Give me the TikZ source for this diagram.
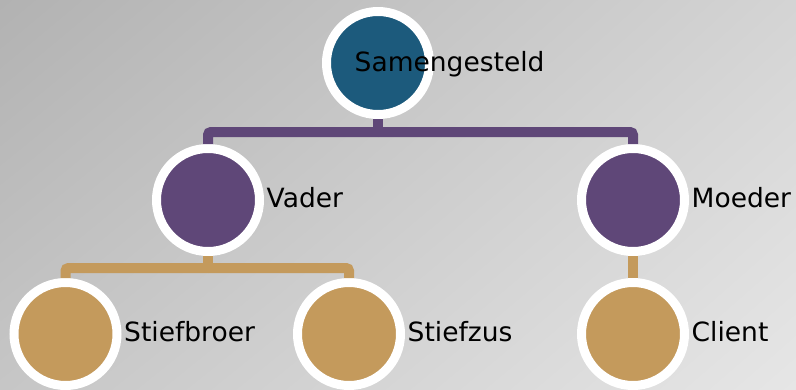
\documentclass[tikz,border=0pt]{standalone}
\usepackage{fontspec}
\setmainfont{DejaVu Sans}
\usepackage{xcolor}
\usetikzlibrary{positioning,shadings}
\definecolor{topblue}{HTML}{1C5A7C}
\definecolor{famplum}{HTML}{5F4778}
\definecolor{famtan}{HTML}{C49A5C}
\definecolor{bgul}{HTML}{B2B2B2}
\definecolor{bgur}{HTML}{D4D4D4}
\definecolor{bgll}{HTML}{C6C6C6}
\definecolor{bglr}{HTML}{E6E6E6}

\begin{document}
\begin{tikzpicture}[x=1pt,y=-1pt,
        person/.style={circle,draw=white,line width=9pt,minimum size=103pt,inner sep=0pt},
        namelbl/.style={font=\fontsize{26.5}{30}\selectfont,inner sep=2.5pt},
        famline/.style={line width=10pt,rounded corners=3pt}]
    \useasboundingbox (0,0) rectangle (796,389);
    \shade[upper left=bgul,upper right=bgur,lower left=bgll,lower right=bglr] (0,0) rectangle (796,389);

    \node (samen) [person,fill=topblue,
        label={[namelbl,yshift=-1pt,label distance=-82pt]right:Samengesteld}
    ] at (378,63) {};
    \node (vader) [person,fill=famplum,
        label={[namelbl,yshift=2pt]right:Vader}
    ] at (208,200) {};
    \node (moeder) [person,fill=famplum,
        label={[namelbl,yshift=2pt]right:Moeder}
    ] at (633,200) {};
    \node (stiefbroer) [person,fill=famtan,
        label={[namelbl,yshift=2pt]right:Stiefbroer}
    ] at (65.5,334) {};
    \node (stiefzus) [person,fill=famtan,
        label={[namelbl,yshift=2pt]right:Stiefzus}
    ] at (349,334) {};
    \node (client) [person,fill=famtan,
        label={[namelbl,yshift=2pt]right:Client}
    ] at (633,334) {};

    \coordinate (topbar) at (378,132);
    \coordinate (vaderbar) at (208,268);
    \draw [famline,famplum] (samen) -- (topbar);
    \draw [famline,famplum] (topbar) -| (vader);
    \draw [famline,famplum] (topbar) -| (moeder);
    \draw [famline,famtan] (vader) -- (vaderbar);
    \draw [famline,famtan] (vaderbar) -| (stiefbroer);
    \draw [famline,famtan] (vaderbar) -| (stiefzus);
    \draw [famline,famtan] (moeder) -- (client);
\end{tikzpicture}
\end{document}
